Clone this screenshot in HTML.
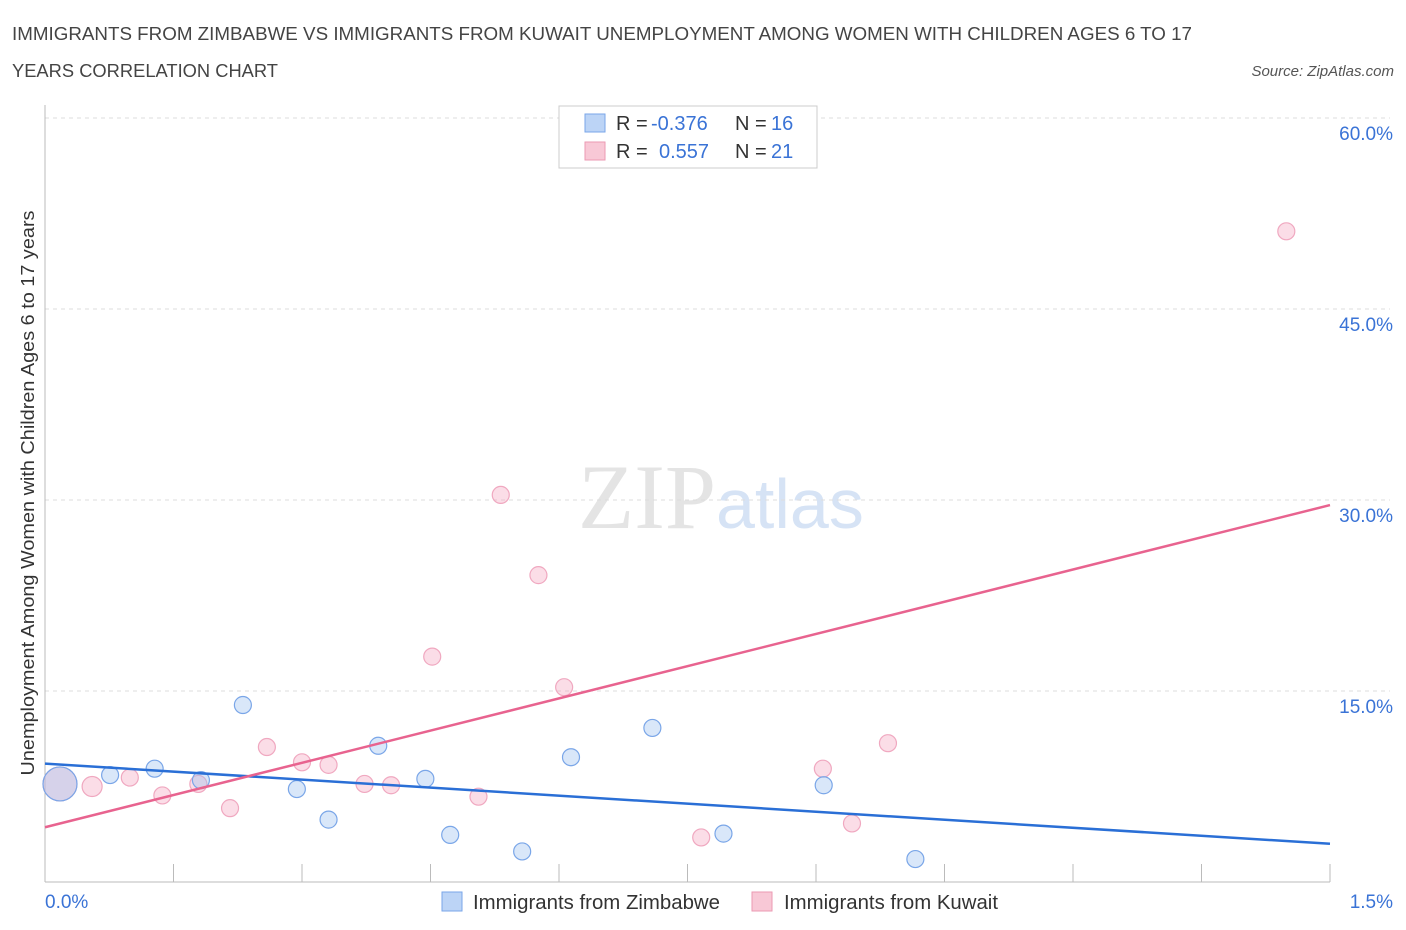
<!DOCTYPE html>
<html><head><meta charset="utf-8"><style>
body{margin:0;background:#fff;font-family:"Liberation Sans",sans-serif;}
svg{display:block}
</style></head><body>
<svg id="c" width="1406" height="930" xmlns="http://www.w3.org/2000/svg">
<text x="12" y="40" font-size="18" fill="#444" textLength="1180" lengthAdjust="spacingAndGlyphs">IMMIGRANTS FROM ZIMBABWE VS IMMIGRANTS FROM KUWAIT UNEMPLOYMENT AMONG WOMEN WITH CHILDREN AGES 6 TO 17</text>
<text x="12" y="77" font-size="18" fill="#444" textLength="266" lengthAdjust="spacingAndGlyphs">YEARS CORRELATION CHART</text>
<text x="1394" y="76" font-size="15" fill="#555" font-style="italic" text-anchor="end">Source: ZipAtlas.com</text>
<text x="716" y="528" font-size="92" fill="#e4e4e4" text-anchor="end" font-family="Liberation Serif,serif">ZIP</text>
<text x="716" y="528" font-size="70" fill="#d6e3f5">atlas</text>
<text transform="translate(34,493) rotate(-90)" font-size="18" fill="#333" text-anchor="middle" textLength="565" lengthAdjust="spacingAndGlyphs">Unemployment Among Women with Children Ages 6 to 17 years</text>
<g id="grid"></g><g id="marks"></g>
<g>
<rect x="559" y="106" width="258" height="62" fill="#fff" stroke="#ccc"/>
<rect x="585" y="114" width="20" height="18" fill="#bcd4f6" stroke="#7aa6e8"/>
<text x="616" y="130" font-size="20" fill="#333">R = <tspan x="651" fill="#3a73d6">-0.376</tspan><tspan x="735">N = </tspan><tspan x="771" fill="#3a73d6">16</tspan></text>
<rect x="585" y="142" width="20" height="18" fill="#f8c8d6" stroke="#eb9ab3"/>
<text x="616" y="158" font-size="20" fill="#333">R = <tspan x="659" fill="#3a73d6">0.557</tspan><tspan x="735">N = </tspan><tspan x="771" fill="#3a73d6">21</tspan></text>
</g>
<g>
<rect x="442" y="892" width="20" height="19" fill="#bcd4f6" stroke="#7aa6e8"/>
<text x="473" y="909" font-size="20" fill="#333" textLength="247" lengthAdjust="spacingAndGlyphs">Immigrants from Zimbabwe</text>
<rect x="752" y="892" width="20" height="19" fill="#f8c8d6" stroke="#eb9ab3"/>
<text x="784" y="909" font-size="20" fill="#333" textLength="214" lengthAdjust="spacingAndGlyphs">Immigrants from Kuwait</text>
</g>
</svg>
<script>
const yTicks=[15,30,45,60];
const xTickCount=10;
const xLabels=["0.0%","1.5%"];
const zimX=[0.0175,0.076,0.128,0.182,0.231,0.294,0.331,0.389,0.444,0.473,0.557,0.614,0.709,0.792,0.909,1.016];
const zimY=[7.7,8.4,8.9,8.0,13.9,7.3,4.9,10.7,8.1,3.7,2.4,9.8,12.1,3.8,7.6,1.8];
const zimR=[17,8.5,8.5,8.5,8.5,8.5,8.5,8.5,8.5,8.5,8.5,8.5,8.5,8.5,8.5,8.5];
const kuwX=[0.0175,0.055,0.099,0.137,0.179,0.216,0.259,0.300,0.331,0.373,0.404,0.452,0.506,0.532,0.576,0.606,0.766,0.908,0.942,0.984,1.449];
const kuwY=[7.7,7.5,8.2,6.8,7.7,5.8,10.6,9.4,9.2,7.7,7.6,17.7,6.7,30.4,24.1,15.3,3.5,8.9,4.6,10.9,51.1];
const kuwR=[17,10,8.5,8.5,8.5,8.5,8.5,8.5,8.5,8.5,8.5,8.5,8.5,8.5,8.5,8.5,8.5,8.5,8.5,8.5,8.5];
const zimTrend=[9.3,3.0];
const kuwTrend=[4.3,29.6];
const X0=45,X1=1330,Y0=882,PY=191/15;
const xs=v=>X0+v/1.5*(X1-X0), ys=v=>Y0-v*PY;
const NS="http://www.w3.org/2000/svg";
function mk(p,t,a){const e=document.createElementNS(NS,t);for(const k in a)e.setAttribute(k,a[k]);p.appendChild(e);return e;}
const g=document.getElementById('grid'), m=document.getElementById('marks');
for(const t of yTicks){
 const l=mk(g,'line',{x1:X0,x2:1390,y1:ys(t),y2:ys(t),stroke:'#ddd','stroke-dasharray':'4,4'});
 
 
 const tx=mk(g,'text',{x:1393,y:ys(t)+22,'font-size':19,fill:'#3a73d6','text-anchor':'end'});
 tx.textContent=t.toFixed(1)+'%';
 
 
}
const ax=mk(g,'line',{x1:X0,x2:X1,y1:Y0,y2:Y0,stroke:'#bbb'});


const ay=mk(g,'line',{x1:X0,x2:X0,y1:105,y2:Y0,stroke:'#bbb'});


for(let i=1;i<=xTickCount;i++){
 const x=X0+i*(X1-X0)/xTickCount;
 const tk=mk(g,'line',{x1:x,x2:x,y1:864,y2:Y0,stroke:'#bbb'});
 
 
}
const l0=mk(g,'text',{x:45,y:908,'font-size':19,fill:'#3a73d6'});l0.textContent=xLabels[0];


const l1=mk(g,'text',{x:1393,y:908,'font-size':19,fill:'#3a73d6','text-anchor':'end'});l1.textContent=xLabels[1];


kuwX.forEach((v,i)=>{
 const c=mk(m,'circle',{cx:xs(v),cy:ys(kuwY[i]),r:kuwR[i],fill:'rgba(244,170,195,0.4)',stroke:'#f0a8c0','stroke-width':1.2});
 
 
});
zimX.forEach((v,i)=>{
 const c=mk(m,'circle',{cx:xs(v),cy:ys(zimY[i]),r:zimR[i],fill:'rgba(160,195,240,0.4)',stroke:'#7aa6e8','stroke-width':1.2});
 
 
});
const tz=mk(m,'line',{x1:xs(0),y1:ys(zimTrend[0]),x2:xs(1.5),y2:ys(zimTrend[1]),stroke:'#2a6fd6','stroke-width':2.5});


const tk2=mk(m,'line',{x1:xs(0),y1:ys(kuwTrend[0]),x2:xs(1.5),y2:ys(kuwTrend[1]),stroke:'#e8638f','stroke-width':2.5});


</script>
</body></html>
